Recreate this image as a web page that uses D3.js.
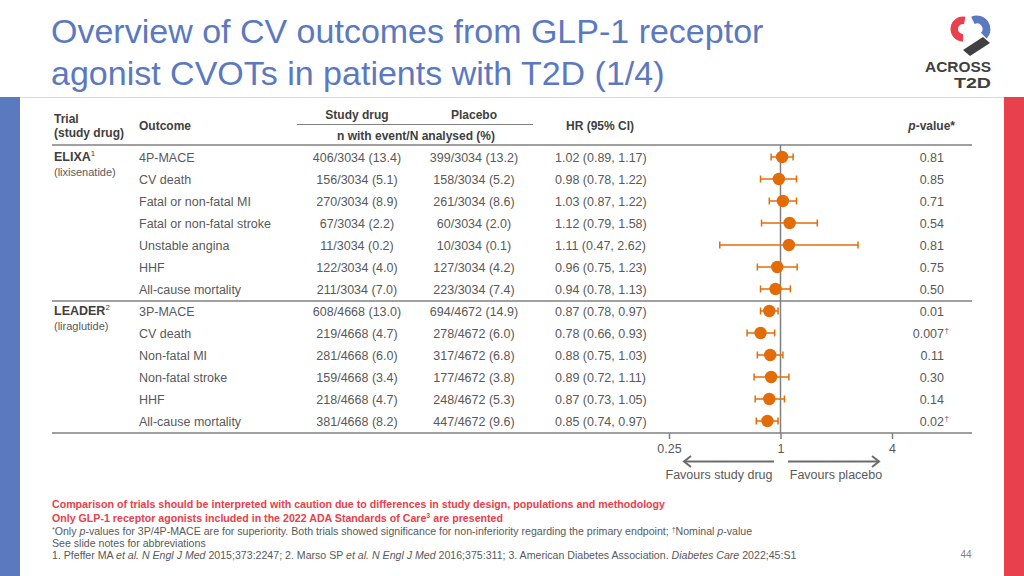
<!DOCTYPE html>
<html><head><meta charset="utf-8">
<script src="https://cdn.jsdelivr.net/npm/d3@7"></script>
<style>body{margin:0;background:#fff}svg{display:block;font-family:"Liberation Sans",Arial,Helvetica,sans-serif}</style>
</head><body>
<svg id="c" width="1024" height="576"></svg>
<script>
// ---- data ----
const trials = ["ELIXA", "LEADER"];
const trialSup = ["1", "2"];
const trialDrug = ["(lixisenatide)", "(liraglutide)"];
const trialOf = [0,0,0,0,0,0,0,1,1,1,1,1,1];
const outcomes = ["4P-MACE","CV death","Fatal or non-fatal MI","Fatal or non-fatal stroke","Unstable angina","HHF","All-cause mortality",
  "3P-MACE","CV death","Non-fatal MI","Non-fatal stroke","HHF","All-cause mortality"];
const drugEvents = ["406/3034 (13.4)","156/3034 (5.1)","270/3034 (8.9)","67/3034 (2.2)","11/3034 (0.2)","122/3034 (4.0)","211/3034 (7.0)",
  "608/4668 (13.0)","219/4668 (4.7)","281/4668 (6.0)","159/4668 (3.4)","218/4668 (4.7)","381/4668 (8.2)"];
const placeboEvents = ["399/3034 (13.2)","158/3034 (5.2)","261/3034 (8.6)","60/3034 (2.0)","10/3034 (0.1)","127/3034 (4.2)","223/3034 (7.4)",
  "694/4672 (14.9)","278/4672 (6.0)","317/4672 (6.8)","177/4672 (3.8)","248/4672 (5.3)","447/4672 (9.6)"];
const hr = [1.02,0.98,1.03,1.12,1.11,0.96,0.94, 0.87,0.78,0.88,0.89,0.87,0.85];
const ciLow = [0.89,0.78,0.87,0.79,0.47,0.75,0.78, 0.78,0.66,0.75,0.72,0.73,0.74];
const ciHigh = [1.17,1.22,1.22,1.58,2.62,1.23,1.13, 0.97,0.93,1.03,1.11,1.05,0.97];
const pValues = ["0.81","0.85","0.71","0.54","0.81","0.75","0.50","0.01","0.007","0.11","0.30","0.14","0.02"];
const pNominal = [false,false,false,false,false,false,false,false,true,false,false,false,true];
const axisTicks = [0.25, 1, 4];
const axisTickLabels = ["0.25", "1", "4"];

// ---- drawing ----
const svg = d3.select("#c");
const blue = "#5b79bf", red = "#e8404c", txt = "#595959", hdr = "#404040", orange = "#e36c09", lineC = "#808080";

// side bars & top line
svg.append("rect").attr("x",0).attr("y",97).attr("width",20).attr("height",479).attr("fill",blue);
svg.append("rect").attr("x",1004).attr("y",97).attr("width",20).attr("height",479).attr("fill",red);
svg.append("line").attr("x1",20).attr("x2",1004).attr("y1",97.5).attr("y2",97.5).attr("stroke","#d9d9d9").attr("stroke-width",1);

// title
const title = svg.append("text").attr("fill",blue).attr("font-size",34);
title.append("tspan").attr("x",51).attr("y",43).text("Overview of CV outcomes from GLP-1 receptor");
title.append("tspan").attr("x",51).attr("y",85).text("agonist CVOTs in patients with T2D (1/4)");

// logo
const logo = svg.append("g");
logo.append("path").attr("d","M983,37 L990,43 L970,56 L963,50 Z").attr("fill","#404040");
logo.append("path").attr("transform","translate(963,29)")
  .attr("d", d3.arc().innerRadius(5).outerRadius(12.5).startAngle(-Math.PI*1.0).endAngle(0.2)()).attr("fill",red);
logo.append("path").attr("transform","translate(977,29)")
  .attr("d", d3.arc().innerRadius(5.5).outerRadius(13.5).startAngle(-0.45).endAngle(2.35)()).attr("fill",blue);
logo.append("text").attr("x",991).attr("y",72).attr("text-anchor","end").attr("font-size",14).attr("font-weight","bold")
  .attr("fill","#404040").attr("textLength",66).attr("lengthAdjust","spacingAndGlyphs").text("ACROSS");
logo.append("text").attr("x",991).attr("y",88).attr("text-anchor","end").attr("font-size",14).attr("font-weight","bold")
  .attr("fill","#404040").attr("textLength",37).attr("lengthAdjust","spacingAndGlyphs").text("T2D");

// columns
const xTrial = 54, xOutcome = 139, xDrug = 357, xPlac = 474, xHR = 555, xP = 944;
const lineL = 52, lineR = 972;

// header
const H = svg.append("g").attr("fill",hdr).attr("font-weight","bold").attr("font-size",12);
H.append("text").attr("x",xTrial).attr("y",123).text("Trial");
H.append("text").attr("x",xTrial).attr("y",137).text("(study drug)");
H.append("text").attr("x",xOutcome).attr("y",130).text("Outcome");
H.append("text").attr("x",xDrug).attr("y",119).attr("text-anchor","middle").text("Study drug");
H.append("text").attr("x",xPlac).attr("y",119).attr("text-anchor","middle").text("Placebo");
H.append("text").attr("x",416).attr("y",140).attr("text-anchor","middle").text("n with event/N analysed (%)");
H.append("text").attr("x",600).attr("y",130).attr("text-anchor","middle").text("HR (95% CI)");
const ph = H.append("text").attr("x",955).attr("y",130).attr("text-anchor","end");
ph.append("tspan").attr("font-style","italic").text("p");
ph.append("tspan").text("-value*");
svg.append("line").attr("x1",297).attr("x2",533).attr("y1",124.5).attr("y2",124.5).attr("stroke",lineC).attr("stroke-width",1.2);

// rows
const y = d3.scalePoint().domain(d3.range(outcomes.length)).range([157, 421]);
const x = d3.scaleLog().domain([0.25, 4]).range([669, 892]);

const hLines = [145, 301, 433];
svg.selectAll("line.h").data(hLines).join("line").attr("class","h")
  .attr("x1",lineL).attr("x2",lineR).attr("y1",d=>d).attr("y2",d=>d)
  .attr("stroke",lineC).attr("stroke-width",1.5);

// trial labels
trials.forEach((t,i)=>{
  const first = trialOf.indexOf(i);
  const tt = svg.append("text").attr("x",xTrial).attr("y",y(first)+4).attr("fill",hdr).attr("font-size",12.5).attr("font-weight","bold");
  tt.append("tspan").text(t);
  tt.append("tspan").attr("font-size",8).attr("font-weight","normal").attr("dy",-5).text(trialSup[i]);
  svg.append("text").attr("x",xTrial).attr("y",y(first)+19).attr("fill",txt).attr("font-size",11).text(trialDrug[i]);
});

const rows = svg.append("g").attr("fill",txt).attr("font-size",12.5);
outcomes.forEach((o,i)=>{
  const yy = y(i)+4.5;
  rows.append("text").attr("x",xOutcome).attr("y",yy).text(o);
  rows.append("text").attr("x",xDrug).attr("y",yy).attr("text-anchor","middle").text(drugEvents[i]);
  rows.append("text").attr("x",xPlac).attr("y",yy).attr("text-anchor","middle").text(placeboEvents[i]);
  rows.append("text").attr("x",xHR).attr("y",yy).text(`${hr[i].toFixed(2)} (${ciLow[i].toFixed(2)}, ${ciHigh[i].toFixed(2)})`);
  rows.append("text").attr("x",xP).attr("y",yy).attr("text-anchor","end").text(pValues[i]);
  if (pNominal[i]) rows.append("text").attr("x",xP+0.5).attr("y",yy-5).attr("font-size",8).text("\u2020");
});

// reference line
svg.append("line").attr("x1",x(1)).attr("x2",x(1)).attr("y1",145).attr("y2",433).attr("stroke",lineC).attr("stroke-width",1.5);

// forest marks
const fp = svg.append("g");
outcomes.forEach((o,i)=>{
  const yy = y(i);
  fp.append("line").attr("x1",x(ciLow[i])).attr("x2",x(ciHigh[i])).attr("y1",yy).attr("y2",yy).attr("stroke",orange).attr("stroke-width",1.5);
  [ciLow[i], ciHigh[i]].forEach(v=>fp.append("line").attr("x1",x(v)).attr("x2",x(v)).attr("y1",yy-3.5).attr("y2",yy+3.5).attr("stroke",orange).attr("stroke-width",1.5));
  fp.append("circle").attr("cx",x(hr[i])).attr("cy",yy).attr("r",6.2).attr("fill",orange);
});

// axis
const ax = svg.append("g").attr("transform","translate(0,433)")
  .call(d3.axisBottom(x).tickValues(axisTicks).tickFormat((d,i)=>axisTickLabels[i]).tickSize(6).tickSizeOuter(0));
ax.select(".domain").remove();
ax.selectAll(".tick line").attr("stroke",lineC).attr("stroke-width",1.5);
ax.selectAll(".tick text").attr("fill",txt).attr("font-size",12.5).attr("font-family","Liberation Sans, Arial, sans-serif").attr("dy","0.9em");

// arrows
const arr = svg.append("g").attr("stroke","#6b6b6b").attr("stroke-width",2).attr("fill","none");
arr.append("line").attr("x1",774).attr("x2",684).attr("y1",461.5).attr("y2",461.5);
arr.append("path").attr("d","M691,456 L684,461.5 L691,467");
arr.append("line").attr("x1",788).attr("x2",879).attr("y1",461.5).attr("y2",461.5);
arr.append("path").attr("d","M872,456 L879,461.5 L872,467");
svg.append("text").attr("x",719).attr("y",479).attr("text-anchor","middle").attr("fill",txt).attr("font-size",12.5).text("Favours study drug");
svg.append("text").attr("x",836).attr("y",479).attr("text-anchor","middle").attr("fill",txt).attr("font-size",12.5).text("Favours placebo");

// footnotes
const F = svg.append("g").attr("font-size",10.6);
F.append("text").attr("x",52).attr("y",508).attr("fill",red).attr("font-weight","bold").attr("textLength",613).attr("lengthAdjust","spacingAndGlyphs")
  .text("Comparison of trials should be interpreted with caution due to differences in study design, populations and methodology");
const f2 = F.append("text").attr("x",52).attr("y",522).attr("fill",red).attr("font-weight","bold").attr("textLength",451).attr("lengthAdjust","spacingAndGlyphs");
f2.append("tspan").text("Only GLP-1 receptor agonists included in the 2022 ADA Standards of Care");
f2.append("tspan").attr("font-size",7).attr("dy",-4).text("3");
f2.append("tspan").attr("dy",4).text(" are presented");
const f3 = F.append("text").attr("x",52).attr("y",535).attr("fill",txt);
f3.append("tspan").attr("font-size",7).attr("dy",-3).text("*");
f3.append("tspan").attr("dy",3).text("Only ");
f3.append("tspan").attr("font-style","italic").text("p");
f3.append("tspan").text("-values for 3P/4P-MACE are for superiority. Both trials showed significance for non-inferiority regarding the primary endpoint; ");
f3.append("tspan").attr("font-size",7).attr("dy",-3).text("\u2020");
f3.append("tspan").attr("dy",3).text("Nominal ");
f3.append("tspan").attr("font-style","italic").text("p");
f3.append("tspan").text("-value");
F.append("text").attr("x",52).attr("y",547).attr("fill",txt).text("See slide notes for abbreviations");
const f5 = F.append("text").attr("x",52).attr("y",559).attr("fill",txt);
f5.append("tspan").text("1. Pfeffer MA ");
f5.append("tspan").attr("font-style","italic").text("et al. N Engl J Med");
f5.append("tspan").text(" 2015;373:2247; 2. Marso SP ");
f5.append("tspan").attr("font-style","italic").text("et al. N Engl J Med");
f5.append("tspan").text(" 2016;375:311; 3. American Diabetes Association. ");
f5.append("tspan").attr("font-style","italic").text("Diabetes Care");
f5.append("tspan").text(" 2022;45:S1");
svg.append("text").attr("x",966).attr("y",558).attr("text-anchor","middle").attr("fill","#7f7f7f").attr("font-size",10).text("44");
</script>
</body></html>
